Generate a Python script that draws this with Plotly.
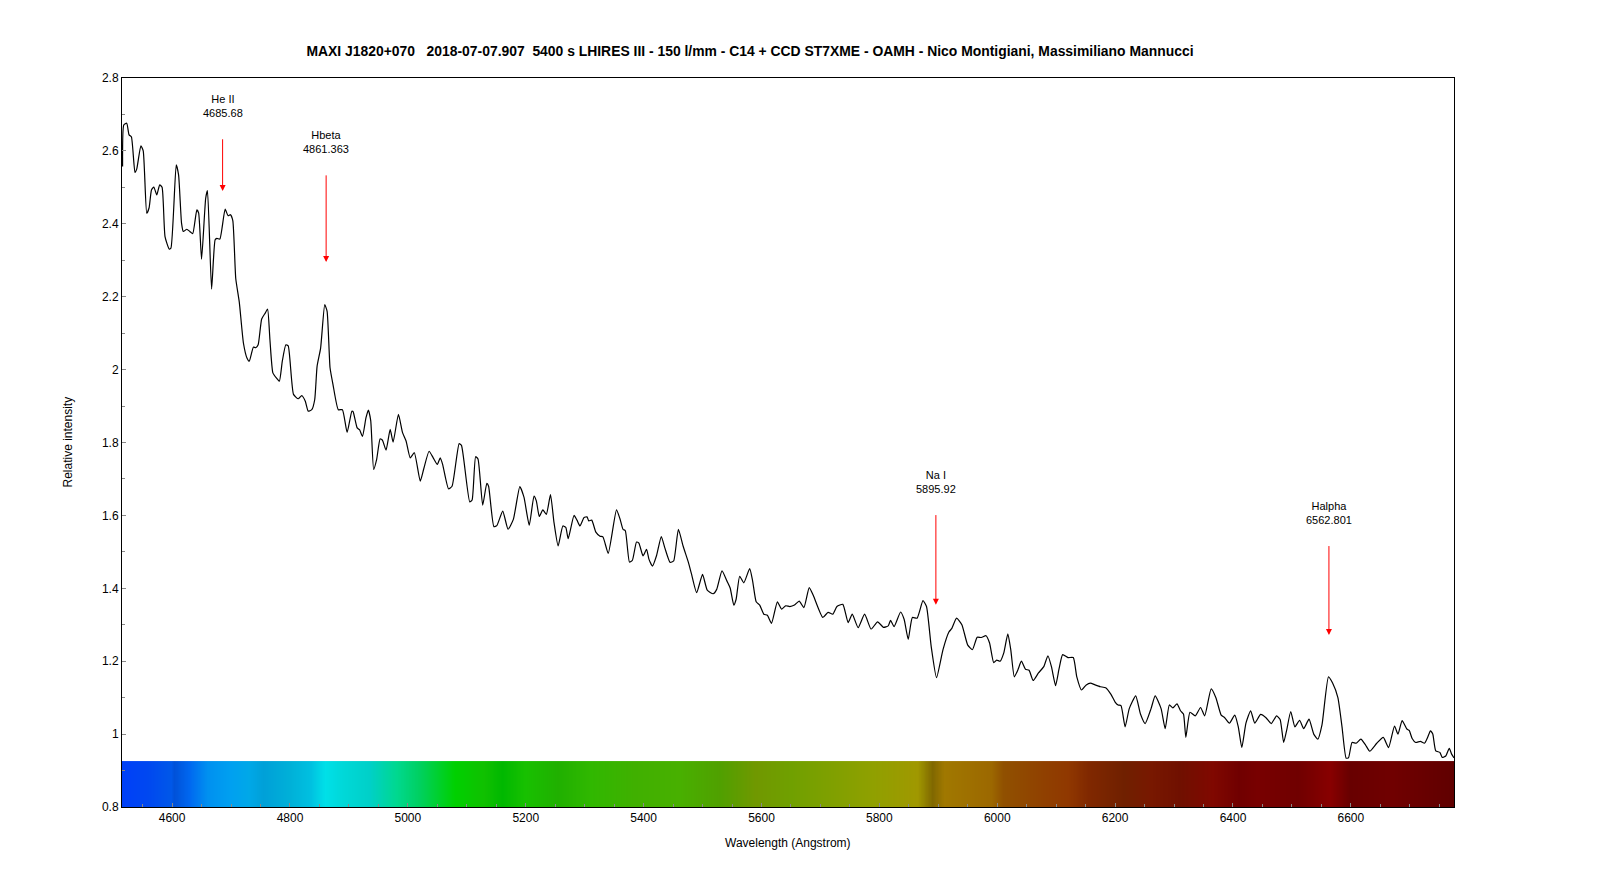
import numpy as np
import plotly.graph_objects as go

# spectrum MAXI J1820+070
wavelength = [
    4516, 4518, 4523, 4527, 4531, 4537, 4540, 4547, 4551, 4557, 4561, 4565, 4569, 4574, 4579, 4583,
    4588, 4595, 4598, 4607, 4611, 4616, 4619, 4625, 4630, 4635, 4642, 4645, 4650, 4657, 4660, 4667,
    4673, 4676, 4681, 4690, 4695, 4699, 4703, 4708, 4714, 4721, 4727, 4731, 4738, 4742, 4746, 4752,
    4758, 4762, 4766, 4771, 4777, 4782, 4787, 4793, 4797, 4806, 4814, 4820, 4826, 4831, 4837, 4842,
    4846, 4852, 4859, 4863, 4868, 4873, 4882, 4889, 4897, 4905, 4907, 4914, 4918, 4923, 4929, 4933,
    4937, 4942, 4947, 4953, 4957, 4963, 4970, 4975, 4984, 4991, 4997, 5004, 5011, 5021, 5027, 5036,
    5043, 5050, 5055, 5059, 5069, 5075, 5087, 5091, 5105, 5109, 5115, 5119, 5127, 5134, 5137, 5146,
    5151, 5161, 5170, 5179, 5190, 5197, 5206, 5214, 5218, 5223, 5229, 5235, 5242, 5248, 5255, 5263,
    5268, 5272, 5282, 5287, 5292, 5299, 5304, 5307, 5312, 5319, 5326, 5331, 5340, 5354, 5360, 5365,
    5369, 5376, 5381, 5388, 5392, 5399, 5405, 5409, 5415, 5422, 5430, 5436, 5445, 5451, 5459, 5467,
    5476, 5481, 5490, 5500, 5508, 5518, 5524, 5533, 5542, 5547, 5553, 5557, 5563, 5570, 5580, 5585,
    5591, 5597, 5604, 5610, 5617, 5627, 5634, 5641, 5648, 5656, 5664, 5672, 5681, 5688, 5704, 5713,
    5721, 5728, 5738, 5747, 5754, 5764, 5775, 5786, 5797, 5807, 5815, 5819, 5825, 5836, 5842, 5849,
    5856, 5864, 5874, 5880, 5888, 5897, 5908, 5918, 5923, 5931, 5940, 5950, 5958, 5966, 5973, 5981,
    5987, 5994, 5999, 6005, 6011, 6018, 6023, 6029, 6035, 6041, 6048, 6054, 6061, 6070, 6079, 6086,
    6092, 6099, 6105, 6111, 6120, 6129, 6135, 6143, 6151, 6158, 6166, 6175, 6184, 6193, 6200, 6205,
    6210, 6217, 6224, 6235, 6243, 6251, 6261, 6268, 6278, 6285, 6292, 6298, 6305, 6311, 6316, 6320,
    6327, 6336, 6345, 6352, 6363, 6371, 6380, 6386, 6394, 6403, 6409, 6415, 6422, 6430, 6437, 6447,
    6456, 6465, 6474, 6480, 6486, 6491, 6498, 6505, 6513, 6520, 6529, 6537, 6544, 6551, 6562, 6569,
    6578, 6585, 6592, 6596, 6602, 6609, 6617, 6625, 6632, 6644, 6655, 6664, 6674, 6680, 6687, 6695,
    6699, 6704, 6710, 6718, 6725, 6730, 6735, 6739, 6744, 6751, 6755, 6761, 6767, 6771, 6775,
]
intensity = [
    2.557, 2.671, 2.676, 2.644, 2.638, 2.541, 2.55, 2.614, 2.60, 2.429, 2.444, 2.493, 2.501, 2.479, 2.507, 2.50,
    2.365, 2.331, 2.333, 2.562, 2.534, 2.402, 2.379, 2.385, 2.379, 2.373, 2.438, 2.43, 2.303, 2.47, 2.491, 2.221,
    2.356, 2.36, 2.358, 2.44, 2.422, 2.425, 2.409, 2.25, 2.185, 2.073, 2.032, 2.023, 2.062, 2.06, 2.068, 2.139,
    2.155, 2.166, 2.082, 1.991, 1.977, 1.968, 2.023, 2.068, 2.065, 1.932, 1.92, 1.929, 1.913, 1.886, 1.89, 1.918,
    2.009, 2.059, 2.178, 2.16, 2.005, 1.959, 1.89, 1.89, 1.828, 1.886, 1.885, 1.84, 1.835, 1.817, 1.868, 1.889,
    1.86, 1.726, 1.753, 1.81, 1.806, 1.779, 1.836, 1.801, 1.877, 1.827, 1.804, 1.758, 1.772, 1.694, 1.728, 1.776,
    1.758, 1.74, 1.758, 1.74, 1.673, 1.68, 1.797, 1.792, 1.637, 1.642, 1.761, 1.755, 1.628, 1.688, 1.68, 1.569,
    1.572, 1.612, 1.562, 1.589, 1.679, 1.65, 1.573, 1.653, 1.64, 1.597, 1.615, 1.603, 1.657, 1.58, 1.516, 1.571,
    1.567, 1.536, 1.60, 1.587, 1.571, 1.594, 1.596, 1.585, 1.587, 1.554, 1.543, 1.541, 1.496, 1.615, 1.59, 1.562,
    1.558, 1.472, 1.477, 1.527, 1.524, 1.489, 1.507, 1.48, 1.461, 1.49, 1.542, 1.511, 1.471, 1.475, 1.562, 1.516,
    1.471, 1.441, 1.388, 1.438, 1.395, 1.385, 1.397, 1.448, 1.418, 1.40, 1.354, 1.37, 1.433, 1.415, 1.454, 1.42,
    1.363, 1.354, 1.329, 1.326, 1.304, 1.363, 1.343, 1.352, 1.35, 1.354, 1.365, 1.347, 1.402, 1.38, 1.32, 1.334,
    1.329, 1.35, 1.356, 1.306, 1.329, 1.292, 1.329, 1.288, 1.308, 1.293, 1.297, 1.312, 1.295, 1.335, 1.315, 1.26,
    1.32, 1.318, 1.366, 1.35, 1.24, 1.155, 1.232, 1.28, 1.29, 1.318, 1.30, 1.244, 1.232, 1.266, 1.265, 1.27,
    1.25, 1.196, 1.203, 1.20, 1.222, 1.275, 1.231, 1.157, 1.176, 1.20, 1.178, 1.175, 1.147, 1.168, 1.185, 1.215,
    1.185, 1.133, 1.18, 1.218, 1.21, 1.21, 1.157, 1.121, 1.135, 1.14, 1.135, 1.13, 1.127, 1.109, 1.088, 1.08,
    1.078, 1.02, 1.07, 1.105, 1.055, 1.029, 1.07, 1.105, 1.07, 1.015, 1.08, 1.072, 1.083, 1.064, 1.055, 0.991,
    1.06, 1.05, 1.073, 1.05, 1.124, 1.10, 1.052, 1.045, 1.03, 1.052, 1.02, 0.963, 1.03, 1.064, 1.03, 1.054,
    1.045, 1.029, 1.05, 1.04, 0.977, 1.01, 1.062, 1.02, 1.038, 1.015, 1.041, 1.0, 0.986, 1.025, 1.157, 1.14,
    1.10, 1.02, 0.934, 0.935, 0.977, 0.975, 0.986, 0.97, 0.953, 0.975, 0.991, 0.963, 1.022, 1.0, 1.037, 1.014,
    1.01, 0.988, 0.977, 0.98, 0.975, 0.99, 1.009, 1.0, 0.954, 0.95, 0.936, 0.94, 0.961, 0.945, 0.935,
]

# identified lines
line_names = ["He II", "Hbeta", "Na I", "Halpha"]
line_wl = [4685.68, 4861.363, 5895.92, 6562.801]
arrow_tail = [2.636, 2.537, 1.605, 1.52]
arrow_tip = [2.49, 2.295, 1.355, 1.272]

# synthetic colour strip under the spectrum (wavelength -> colour)
band_wl = [4515, 4560, 4600, 4603, 4630, 4660, 4700, 4730, 4755, 4800, 4835, 4860, 4890, 4935,
           4980, 5020, 5080, 5130, 5160, 5200, 5255, 5310, 5385, 5460, 5530, 5590, 5650, 5720,
           5790, 5865, 5890, 5910, 5990, 6010, 6080, 6120, 6155, 6215, 6260, 6310, 6365, 6410,
           6440, 6510, 6565, 6598, 6670, 6775]
band_col = ["#0040f8", "#0048f0", "#0058e8", "#0050d8", "#0068f0", "#0090f0", "#00a0f0", "#00a8e8",
            "#00a0d8", "#00b0d8", "#00c0e0", "#00e0e8", "#00d8d8", "#00d0c8", "#00d890", "#00d060",
            "#00d000", "#10c000", "#00b800", "#18c000", "#20b000", "#30b800", "#40b000", "#48b000",
            "#50a000", "#709800", "#70a000", "#80a000", "#90a000", "#a09800", "#806800", "#a07800",
            "#9c6800", "#905000", "#904000", "#903800", "#802800", "#702000", "#781800", "#701000",
            "#800800", "#700000", "#780000", "#700000", "#880000", "#680000", "#700000", "#600000"]

x_min, x_max = 4515, 6775
y_min, y_max = 0.8, 2.8
band_top = 0.926

fig = go.Figure()

grid = np.arange(x_min, x_max + 1, 1.0)
cscale = [[(w - x_min) / (x_max - x_min), c] for w, c in zip(band_wl, band_col)]
fig.add_trace(go.Heatmap(
    x=grid, y=[y_min, band_top], z=[grid], zmin=x_min, zmax=x_max,
    colorscale=cscale, showscale=False, hoverinfo="skip",
))

fig.add_trace(go.Scatter(
    x=wavelength, y=intensity, mode="lines",
    line=dict(color="black", width=1.2, shape="spline", smoothing=0.5),
    hoverinfo="skip", showlegend=False,
))

for name, wl, tail, tip in zip(line_names, line_wl, arrow_tail, arrow_tip):
    fig.add_annotation(x=wl, y=tip, ax=wl, ay=tail, axref="x", ayref="y",
                       text="", showarrow=True, arrowhead=2, arrowsize=1.2,
                       arrowwidth=1, arrowcolor="#ff0000")
    fig.add_annotation(x=wl, y=tail, yshift=32, text=f"{name}<br>{wl}",
                       showarrow=False, font=dict(size=11, color="black"),
                       yanchor="middle")

nb = "\u00a0"
title = (f"MAXI J1820+070{nb*3}2018-07-07.907{nb*2}5400 s LHIRES III - 150 l/mm - C14 + CCD ST7XME"
         f" - OAMH - Nico Montigiani, Massimiliano Mannucci")

fig.add_annotation(text="Wavelength (Angstrom)", xref="paper", yref="paper", x=0.5, y=0,
                   yshift=-36, yanchor="middle", showarrow=False,
                   font=dict(size=12, color="black"))
fig.add_annotation(text="Relative intensity", xref="paper", yref="paper", x=0, y=0.5,
                   xshift=-55, xanchor="center", yanchor="middle", textangle=-90,
                   showarrow=False, font=dict(size=12, color="black"))

# page body has an 8px margin, so the figure is 16px smaller than the window
fig.update_layout(
    width=1598, height=870,
    margin=dict(l=114, r=152, t=70, b=71),
    paper_bgcolor="white", plot_bgcolor="white",
    font=dict(family="Liberation Sans, Arial, sans-serif", size=12, color="black"),
    title=dict(text=f"<b>{title}</b>", x=742 / 1598, xanchor="center", y=1 - 43.5 / 870,
               yanchor="middle", font=dict(size=13.9, color="black")),
    showlegend=False,
)
fig.update_xaxes(range=[x_min, x_max], dtick=200, tick0=4600, showgrid=False, zeroline=False,
                 showline=True, linecolor="black", linewidth=1, mirror=True,
                 ticks="inside", ticklen=4, tickcolor="#888888",
                 minor=dict(dtick=50, tick0=4600, ticks="inside", ticklen=3, tickcolor="#888888"))
fig.update_yaxes(range=[y_min, y_max], dtick=0.2, tick0=0.8, showgrid=False, zeroline=False,
                 showline=True, linecolor="black", linewidth=1, mirror=True,
                 ticks="inside", ticklen=4, tickcolor="#888888",
                 minor=dict(dtick=0.1, tick0=0.8, ticks="inside", ticklen=3, tickcolor="#888888"))

fig.write_html("out.html")
